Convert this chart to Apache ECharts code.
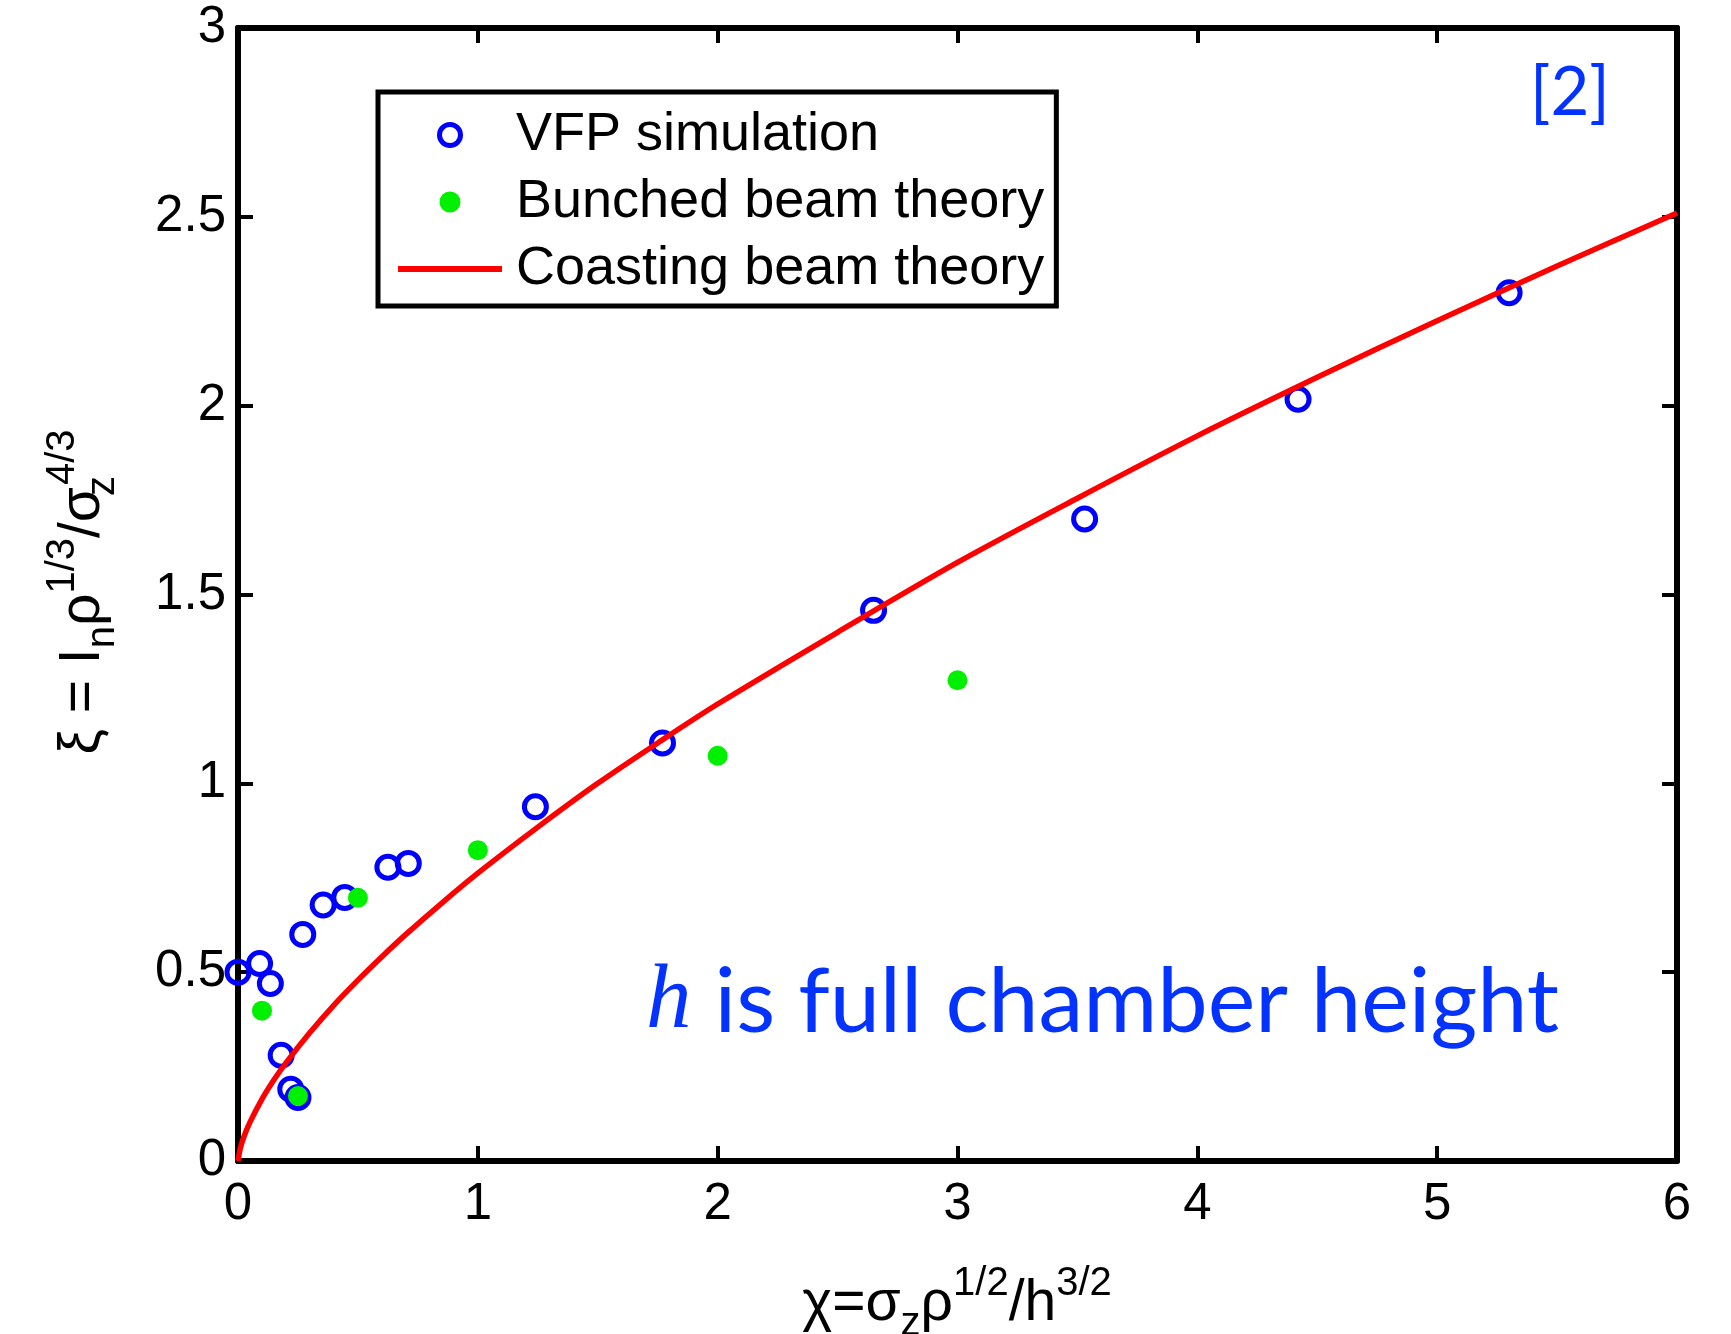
<!DOCTYPE html>
<html>
<head>
<meta charset="utf-8">
<script src="https://cdn.jsdelivr.net/npm/echarts@6/dist/echarts.min.js"></script>
<style>
html,body{margin:0;padding:0;background:#fff;}
#chart{width:1731px;height:1334px;}
</style>
</head>
<body>
<div id="chart"></div>
<script>
// ---- data ----
const vfpX = [0.0, 0.09, 0.135, 0.18, 0.22, 0.25, 0.27, 0.355, 0.445, 0.625, 0.71, 1.24, 1.77, 2.65, 3.53, 4.42, 5.30];
const vfpY = [0.50, 0.523, 0.47, 0.28, 0.19, 0.168, 0.60, 0.678, 0.698, 0.778, 0.788, 0.938, 1.107, 1.458, 1.70, 2.017, 2.299];

const bunchedX = [0.1, 0.25, 0.5, 1.0, 2.0, 3.0];
const bunchedY = [0.398, 0.172, 0.697, 0.823, 1.073, 1.273];

const coastX = [0, 0.01, 0.025, 0.05, 0.1, 0.15, 0.2, 0.3, 0.4, 0.5, 0.6, 0.7, 0.85, 1, 1.25, 1.5, 1.75, 2, 2.5, 3, 3.5, 4, 4.5, 5, 5.5, 6];
const coastY = [0, 0.035, 0.065, 0.103, 0.164, 0.215, 0.26, 0.34, 0.413, 0.479, 0.541, 0.60, 0.683, 0.762, 0.884, 1.0, 1.107, 1.21, 1.40, 1.585, 1.755, 1.92, 2.075, 2.225, 2.37, 2.51];

const seriesNames = ['VFP simulation', 'Bunched beam theory', 'Coasting beam theory'];
const xTitle = '{m|χ=σ}{sb|z}{m|ρ}{sp|1/2}{m|/h}{sp|3/2}';
const yTitle = '{m|ξ = I}{sb|n}{m|ρ}{sp|1/3}{m|/σ}{sbz|z}{sp|4/3}';
const noteItalic = 'h';
const noteText = ' is full chamber height';
const refText = '[2]';

const zip = (a, b) => a.map((v, i) => [v, b[i]]);

const FONT = "'Liberation Sans', Arial, sans-serif";
const BLUE_NOTE = '#0433ff';

const axisCommon = {
  type: 'value',
  axisLine: { show: true, onZero: false, lineStyle: { color: '#000', width: 6 } },
  axisTick: { show: true, inside: true, length: 15, lineStyle: { color: '#000', width: 4 } },
  splitLine: { show: false }
};

const titleRich = {
  m: { fontSize: 57, fontFamily: FONT, lineHeight: 80, fill: '#000' },
  sp: { fontSize: 40, fontFamily: FONT, lineHeight: 32, verticalAlign: 'top', fill: '#000' },
  sb: { fontSize: 40, fontFamily: FONT, lineHeight: 14, verticalAlign: 'bottom', fill: '#000' },
  sbz: { fontSize: 40, fontFamily: FONT, lineHeight: 14, verticalAlign: 'bottom', width: 2, fill: '#000' }
};

const chart = echarts.init(document.getElementById('chart'), null, { renderer: 'canvas' });

chart.setOption({
  backgroundColor: '#fff',
  animation: false,
  grid: { left: 238, right: 54, top: 28, bottom: 173, containLabel: false },
  xAxis: [
    Object.assign({}, axisCommon, {
      position: 'bottom', min: 0, max: 6, interval: 1,
      axisLabel: { show: true, margin: 18, fontSize: 51, fontFamily: FONT, color: '#000' }
    }),
    Object.assign({}, axisCommon, {
      position: 'top', min: 0, max: 6, interval: 1,
      axisLabel: { show: false }
    })
  ],
  yAxis: [
    Object.assign({}, axisCommon, {
      position: 'left', min: 0, max: 3, interval: 0.5,
      axisLabel: { show: true, margin: 12, fontSize: 51, fontFamily: FONT, color: '#000' }
    }),
    Object.assign({}, axisCommon, {
      position: 'right', min: 0, max: 3, interval: 0.5,
      axisLabel: { show: false }
    })
  ],
  legend: {
    orient: 'vertical',
    left: 378,
    top: 92,
    backgroundColor: '#fff',
    borderColor: '#000',
    borderWidth: 5,
    borderRadius: 0,
    padding: [15, 12, 9, 20],
    itemGap: 11,
    itemWidth: 104,
    itemHeight: 21,
    selectedMode: false,
    textStyle: { fontSize: 54, fontFamily: FONT, color: '#000', lineHeight: 56, padding: [0, 0, 0, 9] },
    data: [
      { name: seriesNames[0], icon: 'circle', itemStyle: { color: '#fff', borderColor: '#0000ff', borderWidth: 5 } },
      { name: seriesNames[1], icon: 'circle', itemStyle: { color: '#00f000', borderWidth: 0 } },
      { name: seriesNames[2], icon: 'path://M0,0 L104,0 L104,6 L0,6 Z', itemStyle: { color: '#ff0000', borderWidth: 0 } }
    ]
  },
  series: [
    {
      name: seriesNames[0], type: 'scatter', z: 3,
      data: zip(vfpX, vfpY),
      symbol: 'circle', symbolSize: 22,
      itemStyle: { color: 'rgba(255,255,255,0)', borderColor: '#0000ff', borderWidth: 5, opacity: 1 },
      emphasis: { disabled: true }
    },
    {
      name: seriesNames[1], type: 'scatter', z: 4,
      data: zip(bunchedX, bunchedY),
      symbol: 'circle', symbolSize: 20,
      itemStyle: { color: '#00f000', opacity: 1 },
      emphasis: { disabled: true }
    },
    {
      name: seriesNames[2], type: 'line', z: 5,
      data: zip(coastX, coastY),
      symbol: 'none', smooth: 0.3,
      lineStyle: { color: '#ff0000', width: 5.5 },
      itemStyle: { color: '#ff0000' },
      emphasis: { disabled: true }
    }
  ],
  graphic: [
    {
      type: 'text', x: 957, y: 1304, z: 10,
      style: { text: xTitle, rich: titleRich, align: 'center', verticalAlign: 'middle', fill: '#000' }
    },
    {
      type: 'text', x: 83, y: 592, rotation: Math.PI / 2, z: 10,
      style: { text: yTitle, rich: titleRich, align: 'center', verticalAlign: 'middle', fill: '#000' }
    },
    {
      type: 'text', x: 646, y: 1003, z: 10,
      style: {
        text: '{i|' + noteItalic + '}{n|' + noteText + '}',
        align: 'left', verticalAlign: 'middle', fill: BLUE_NOTE,
        rich: {
          i: { fontSize: 91, fontFamily: "'Liberation Serif', 'Times New Roman', serif", fontStyle: 'italic', fill: BLUE_NOTE, lineHeight: 110 },
          n: { fontSize: 90, fontFamily: "Lato, 'Noto Sans', sans-serif", fill: BLUE_NOTE, lineHeight: 110 }
        }
      }
    },
    {
      type: 'text', x: 1530, y: 93, z: 10,
      style: { text: refText, align: 'left', verticalAlign: 'middle', fill: BLUE_NOTE, fontSize: 67, fontFamily: "Lato, 'Noto Sans', sans-serif" }
    }
  ]
});
</script>
</body>
</html>
